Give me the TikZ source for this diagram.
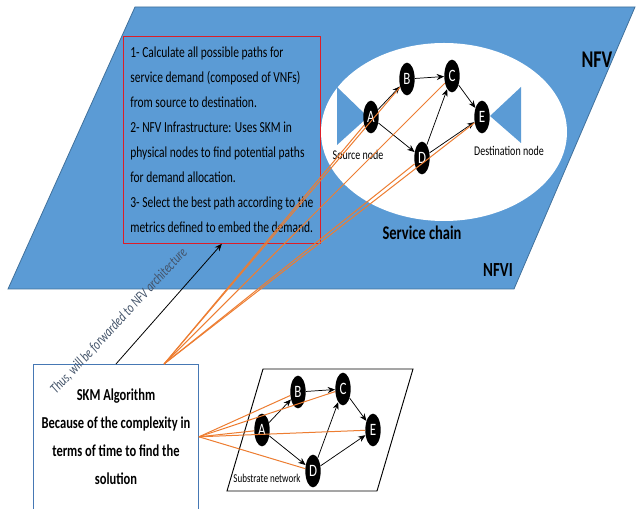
\documentclass[tikz,border=0pt]{standalone}
\usepackage{fontspec}
\setmainfont{Carlito}[FakeStretch=0.75]
\usetikzlibrary{shapes.geometric,arrows.meta,calc}

\begin{document}
\begin{tikzpicture}[x=0.75pt,y=-0.75pt,
    vnf/.style={ellipse,fill=black,text=white,inner sep=0pt,
      minimum width=11.5pt,minimum height=24.5pt,font=\fontsize{13}{13}\selectfont},
    link/.style={-{Stealth[length=5.5pt,width=4.5pt]},line width=0.55pt},
    fan/.style={draw=linkorange,line width=0.75pt},
    lbl/.style={font=\fontsize{10}{10}\selectfont}]
  % Color definitions
  \definecolor{nfvblue}{RGB}{91,155,213}    % plane fill
  \definecolor{nfvedge}{RGB}{65,113,156}    % plane border
  \definecolor{stepsred}{RGB}{220,30,40}    % steps box
  \definecolor{skmblue}{RGB}{70,120,180}    % SKM box
  \definecolor{linkorange}{RGB}{237,125,49} % mapping lines
  \definecolor{notegray}{RGB}{68,84,106}    % rotated note

  % Helper macro  {prefix}{x of A}{y of A}
  \newcommand{\vnfchain}[3]{%
    \node[vnf] (#1A) at (#2,#3) {A};
    \node[vnf] (#1B) at (#2+36,#3-38) {B};
    \node[vnf] (#1C) at (#2+81,#3-41) {C};
    \node[vnf] (#1D) at (#2+51,#3+41) {D};
    \node[vnf] (#1E) at (#2+111,#3) {E};
    \draw[link] (#1A) -- (#1B);
    \draw[link] (#1B) -- (#1C);
    \draw[link] (#1C) -- (#1E);
    \draw[link] (#1A) -- (#1D);
    \draw[link] (#1D) -- (#1C);
    \draw[link] (#1D) -- (#1E);}

  \useasboundingbox (0,0) rectangle (636,509);

  % NFV / NFVI plane
  \filldraw[fill=nfvblue,draw=nfvedge,line width=0.6pt]
    (135,7) -- (635,7) -- (514,289) -- (8,289) -- cycle;
  \node[font=\bfseries\fontsize{18}{18}\selectfont] (nfv) at (597,60) {NFV};
  \node[font=\bfseries\fontsize{15}{15}\selectfont] (nfvi) at (498,270) {NFVI};

  % Steps box
  \node[draw=stepsred,line width=0.6pt,anchor=north west,minimum width=147.75pt,
    minimum height=155.25pt,align=left,font=\fontsize{11.5}{18.75}\selectfont]
    (steps) at (123,36) {1- Calculate all possible paths for\\
      service demand (composed of VNFs)\\
      from source to destination.\\
      2- NFV Infrastructure: Uses SKM in\\
      physical nodes to find potential paths\\
      for demand allocation.\\
      3- Select the best path according to the\\
      metrics defined to embed the demand.};

  % Service chain
  \node[ellipse,fill=white,minimum width=184.5pt,minimum height=133.5pt] (chain) at (444,132) {};
  \node[font=\bfseries\fontsize{14.5}{14.5}\selectfont] (chainlbl) at (422,233) {Service chain};
  \fill[nfvblue] (337,87) -- (337,145) -- (368,117) -- cycle;
  \fill[nfvblue] (521,87) -- (521,143) -- (490,116) -- cycle;
  \node[lbl] (srclbl) at (358,155) {Source node};
  \node[lbl] (dstlbl) at (509,151) {Destination node};
  \vnfchain{up}{371}{117}

  % Substrate network
  \filldraw[fill=white,draw=black,line width=0.7pt]
    (263,369) -- (413,369) -- (377,491) -- (227,491) -- cycle;
  \node[font=\fontsize{9}{9}\selectfont] (sublbl) at (267,478) {Substrate network};
  \vnfchain{low}{262}{430}

  % SKM algorithm box
  \node[draw=skmblue,line width=0.7pt,fill=white,anchor=north west,minimum width=123.75pt,
    minimum height=108.5pt,align=center,font=\bfseries\fontsize{12.5}{20.8}\selectfont]
    (skm) at (33,364) {SKM Algorithm\\Because of the complexity in\\terms of time to find the\\solution};

  % Forwarding arrow and note
  \draw[link,line width=0.6pt] (skm.north) -- (steps.south);
  \node[rotate=47,text=notegray,font=\itshape\fontsize{11}{11}\selectfont]
    (note) at (119,321) {Thus, will be forwarded to NFV architecture};

  % Orange mapping lines
  \coordinate (fanup) at ($(skm.north west)!0.79!(skm.north east)$);
  \foreach \n in {A,B,C,D,E} {
    \draw[fan] (fanup) -- (up\n);
    \draw[fan] (skm.east) -- (low\n);}
\end{tikzpicture}
\end{document}
